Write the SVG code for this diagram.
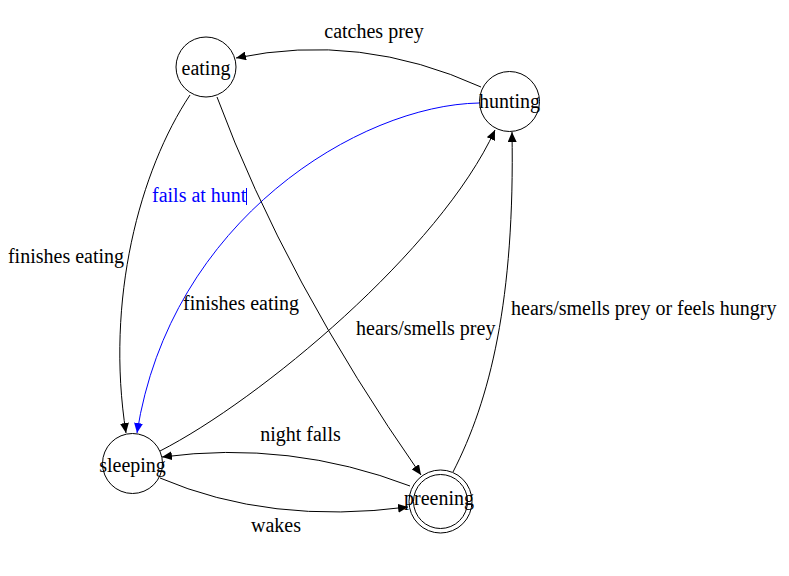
<svg xmlns="http://www.w3.org/2000/svg" width="789" height="576" viewBox="0 0 789 576">
<style>
text{font-family:"Liberation Serif","Times New Roman",serif;font-size:20px;fill:#000}
.node circle{fill:#fff;stroke:#000;stroke-width:1}
.nl{text-anchor:middle}
.edge{fill:none;stroke:#000;stroke-width:1}
.blue{stroke:#0000ff}
.bt{fill:#0000ff}
</style>
<defs>
<marker id="ah" markerUnits="userSpaceOnUse" markerWidth="11" markerHeight="9" refX="10" refY="4.5" orient="auto"><path d="M0,0 L10,4.5 L0,9 z" fill="#000"/></marker>
<marker id="ahb" markerUnits="userSpaceOnUse" markerWidth="11" markerHeight="9" refX="10" refY="4.5" orient="auto"><path d="M0,0 L10,4.5 L0,9 z" fill="#0000ff"/></marker>
</defs>
<rect width="789" height="576" fill="#fff"/>
<g id="edges">
<path class="edge" d="M481,87 Q360,32 236,58" marker-end="url(#ah)"/>
<path class="edge" d="M190,95 C140,170 105,300 126,433" marker-end="url(#ah)"/>
<path class="edge blue" d="M479,103 C360,105 170,220 137,433" marker-end="url(#ahb)"/>
<path class="edge" d="M217,97 Q285,280 421,475" marker-end="url(#ah)"/>
<path class="edge" d="M160,451 C260,400 440,250 495,130" marker-end="url(#ah)"/>
<path class="edge" d="M453,472 C490,400 515,300 512,132" marker-end="url(#ah)"/>
<path class="edge" d="M410,486 Q290,440 162,457" marker-end="url(#ah)"/>
<path class="edge" d="M160,478 Q270,525 408,507" marker-end="url(#ah)"/>
<text x="374" y="38" class="nl">catches prey</text>
<text x="66" y="263" class="nl">finishes eating</text>
<text x="152" y="202" class="bt">fails at hunt</text>
<line x1="246.5" y1="188" x2="246.5" y2="205" stroke="#0000ff" stroke-width="1"/>
<text x="183" y="310">finishes eating</text>
<text x="356" y="335">hears/smells prey</text>
<text x="511" y="315">hears/smells prey or feels hungry</text>
<text x="300.5" y="441" class="nl">night falls</text>
<text x="276" y="532" class="nl">wakes</text>
</g>
<g id="eating" class="node"><circle cx="206" cy="67" r="30"/><text x="206" y="75" class="nl">eating</text></g>
<g id="hunting" class="node"><circle cx="509.5" cy="101.5" r="30"/><text x="509.5" y="108" class="nl">hunting</text></g>
<g id="sleeping" class="node"><circle cx="132.5" cy="463.5" r="30"/><text x="132.5" y="472" class="nl">sleeping</text></g>
<g id="preening" class="node"><circle cx="440.5" cy="501.5" r="31.5"/><circle cx="440.5" cy="501.5" r="27"/><text x="439" y="505" class="nl">preening</text></g>
</svg>
